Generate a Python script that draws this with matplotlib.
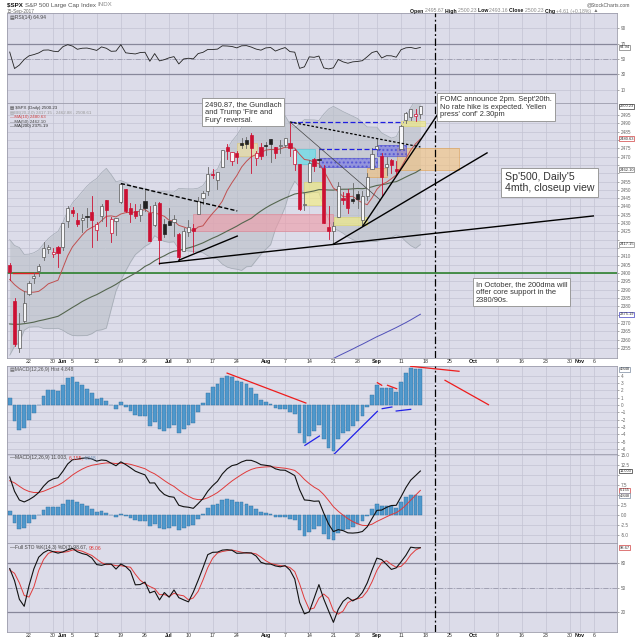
import matplotlib.pyplot as plt
from matplotlib.patches import Rectangle
from matplotlib.transforms import blended_transform_factory
import numpy as np
import pandas as pd

plt.rcParams['font.family'] = ['Liberation Sans', 'DejaVu Sans']

# $SPX daily, 16-May-2017 .. 15-Sep-2017
opens = [2404.55, 2382.95, 2354.69, 2371.37, 2387.21, 2397.04, 2401.41, 2409.54, 2414.50, 2411.67, 2415.63,
         2415.65, 2431.28, 2437.83, 2431.92, 2432.03, 2434.27, 2436.39, 2425.88, 2434.15, 2443.75, 2424.14,
         2431.24, 2442.55, 2450.66, 2439.31, 2437.40, 2434.65, 2443.32, 2436.34, 2428.70, 2442.38, 2429.20,
         2431.39, 2430.78, 2423.66, 2413.52, 2424.51, 2427.35, 2435.75, 2444.99, 2449.16, 2459.50, 2455.88,
         2463.85, 2475.56, 2467.40, 2472.04, 2477.88, 2479.97, 2482.76, 2469.12, 2475.94,
         2477.10, 2480.38, 2476.03, 2476.14, 2477.14, 2478.35, 2465.35, 2465.38, 2441.04, 2454.96, 2468.66,
         2468.63, 2462.95, 2427.64, 2425.50, 2433.75, 2444.88, 2447.91, 2444.72, 2447.35, 2431.94, 2446.06,
         2462.65, 2474.42, 2470.35, 2463.83, 2468.06, 2462.25, 2474.52, 2491.94, 2493.89, 2494.56, 2495.67]
highs = [2405.77, 2384.87, 2375.74, 2389.06, 2395.46, 2400.85, 2405.58, 2418.71, 2416.68, 2415.26, 2415.99,
         2430.06, 2440.23, 2439.55, 2436.21, 2435.28, 2439.27, 2446.20, 2430.38, 2441.49, 2443.75, 2433.95,
         2433.15, 2453.82, 2450.66, 2442.23, 2441.62, 2441.40, 2450.42, 2440.15, 2442.97, 2442.73, 2432.71,
         2439.17, 2434.90, 2424.28, 2426.92, 2432.00, 2429.30, 2445.76, 2449.32, 2463.54, 2462.82, 2460.92,
         2473.83, 2477.62, 2472.54, 2473.10, 2481.24, 2481.69, 2484.04, 2473.53, 2477.96,
         2478.51, 2480.38, 2476.03, 2480.00, 2480.95, 2490.87, 2474.41, 2465.38, 2448.09, 2468.22, 2468.90,
         2474.93, 2465.02, 2440.27, 2430.58, 2454.77, 2448.91, 2450.39, 2453.96, 2449.12, 2449.19, 2460.31,
         2475.01, 2480.38, 2471.97, 2469.64, 2468.62, 2467.11, 2488.95, 2496.77, 2498.37, 2498.43, 2500.23]
lows = [2396.05, 2356.21, 2352.72, 2370.43, 2386.92, 2393.88, 2397.99, 2408.01, 2412.20, 2409.42, 2403.59,
        2413.54, 2427.71, 2434.32, 2428.12, 2424.75, 2427.94, 2415.70, 2419.97, 2431.28, 2428.34, 2418.53,
        2422.88, 2441.79, 2436.60, 2430.74, 2433.27, 2431.11, 2437.03, 2419.38, 2428.02, 2405.70, 2421.65,
        2428.69, 2422.05, 2407.70, 2413.52, 2422.27, 2412.79, 2435.75, 2441.69, 2446.69, 2457.16, 2450.34,
        2463.85, 2468.43, 2465.06, 2466.32, 2474.91, 2474.94, 2459.93, 2464.66, 2468.53,
        2471.14, 2466.48, 2468.85, 2472.08, 2475.88, 2470.32, 2462.08, 2437.75, 2437.85, 2454.96, 2461.61,
        2463.86, 2430.01, 2420.69, 2417.35, 2433.67, 2441.42, 2436.19, 2442.22, 2439.03, 2428.20, 2443.77,
        2462.65, 2473.85, 2446.55, 2459.20, 2460.29, 2459.40, 2474.52, 2490.37, 2492.14, 2491.35, 2493.16]
closes = [2400.67, 2357.03, 2365.72, 2381.73, 2394.02, 2398.42, 2404.39, 2415.07, 2415.82, 2412.91, 2411.80,
          2430.06, 2439.07, 2436.10, 2429.33, 2433.14, 2433.79, 2431.77, 2429.39, 2440.35, 2437.92, 2432.46,
          2433.15, 2453.46, 2437.03, 2435.61, 2434.50, 2438.30, 2439.07, 2419.38, 2440.69, 2419.70, 2423.41,
          2429.01, 2432.54, 2409.75, 2425.18, 2427.43, 2425.53, 2443.25, 2447.83, 2459.27, 2459.14, 2460.61,
          2473.83, 2473.45, 2472.54, 2469.91, 2477.13, 2477.83, 2475.42, 2472.10, 2470.30,
          2476.35, 2477.57, 2472.16, 2476.83, 2480.91, 2474.92, 2474.02, 2438.21, 2441.32, 2465.84, 2464.61,
          2468.11, 2430.01, 2425.55, 2428.37, 2452.51, 2444.04, 2438.97, 2443.05, 2444.24, 2446.30, 2457.59,
          2471.65, 2476.55, 2457.85, 2465.54, 2465.10, 2461.43, 2488.11, 2496.48, 2498.37, 2495.62, 2500.23]

# closes before the window (1-Mar .. 15-May) so the averages/oscillators have history
pre_closes = [2395.96, 2381.92, 2383.12, 2375.31, 2368.39, 2362.98, 2364.87, 2372.60, 2373.47, 2365.45,
              2385.26, 2381.38, 2378.25, 2373.47, 2344.02, 2348.45, 2345.96, 2343.98, 2341.59, 2358.57,
              2361.13, 2368.06, 2362.72,
              2358.84, 2360.16, 2352.95, 2357.49, 2355.54, 2357.16, 2353.78, 2344.93, 2328.95, 2349.01,
              2342.19, 2338.17, 2355.84, 2348.69, 2374.15, 2388.61, 2387.45, 2388.77, 2384.20,
              2388.33, 2391.17, 2388.13, 2389.52, 2399.29, 2399.38, 2396.92, 2399.63, 2394.44, 2390.90, 2402.32]
# highs / lows of the last 17 of those days (21-Apr .. 15-May), for the stochastic
pre_highs = [2356.18, 2376.98, 2392.48, 2398.16, 2389.74, 2392.10, 2394.49, 2392.93, 2389.82, 2391.43,
             2399.29, 2401.36, 2403.87, 2399.73, 2395.72, 2392.44, 2404.05]
pre_lows = [2344.51, 2369.19, 2381.15, 2386.78, 2382.35, 2382.68, 2382.36, 2385.82, 2379.75, 2380.35,
            2389.38, 2393.92, 2392.44, 2392.79, 2381.74, 2387.19, 2393.94]

# MA(200), 21-Aug .. 15-Sep (earlier values sit below the chart)
ma200_tail = [2348.6, 2350.1, 2351.5, 2352.9, 2354.3, 2355.8, 2357.2, 2358.7, 2360.2, 2361.7,
              2363.0, 2364.4, 2365.8, 2367.2, 2368.7, 2370.2, 2371.8, 2373.5, 2375.2]

holidays = ['2017-05-29', '2017-07-04', '2017-09-04']
tick_days = ['2017-05-22', '2017-05-30', '2017-06-01', '2017-06-05', '2017-06-12', '2017-06-19', '2017-06-26',
             '2017-07-03', '2017-07-10', '2017-07-17', '2017-07-24', '2017-08-01', '2017-08-07', '2017-08-14',
             '2017-08-21', '2017-08-28', '2017-09-01', '2017-09-11', '2017-09-18', '2017-09-25', '2017-10-02',
             '2017-10-09', '2017-10-16', '2017-10-23', '2017-10-30', '2017-11-01', '2017-11-06']
tick_names = ['22', '30', 'Jun', '5', '12', '19', '26', 'Jul', '10', '17', '24', 'Aug', '7', '14',
              '21', '28', 'Sep', '11', '18', '25', 'Oct', '9', '16', '23', '30', 'Nov', '6']
months = ['Jun', 'Jul', 'Aug', 'Sep', 'Oct', 'Nov']

# last values shown in the boxes on the right edge
rsi_last = 64.94
price_tags = [(2500.23, '#333333'), (2480.63, '#d04040'), (2462.10, '#777777'),
              (2417.15, '#888888'), (2375.19, '#4040c0')]
macd_tags = [(11.003, '#333333'), (6.155, '#d04040'), (4.848, '#7a8aa0')]
hist_last = 4.848
sto_last = 98.67

# ---------------- indicators
days = pd.bdate_range('2017-05-16', '2017-11-10')
days = days[~days.isin(pd.to_datetime(holidays))]
def day(s):
    return int(days.get_loc(pd.Timestamp(s)))

n = len(closes)
x = np.arange(n)
npre = len(pre_closes)
c_all = pd.Series(pre_closes + closes)
ma10 = c_all.rolling(10).mean().values[npre:]
ma50 = c_all.rolling(50).mean().values[npre:]
mid20 = c_all.rolling(20).mean()
sd20 = c_all.rolling(20).std(ddof=0)
bb_up = (mid20 + 2 * sd20).values[npre:]
bb_lo = (mid20 - 2 * sd20).values[npre:]
mid20 = mid20.values[npre:]

ema12 = c_all.ewm(span=12, adjust=False).mean()
ema26 = c_all.ewm(span=26, adjust=False).mean()
macd = ema12 - ema26
signal = macd.ewm(span=9, adjust=False).mean()
hist = (macd - signal).values[npre:]
macd = macd.values[npre:]
signal = signal.values[npre:]

delta = c_all.diff()
gain = delta.clip(lower=0).ewm(alpha=1 / 14, adjust=False).mean()
loss = (-delta.clip(upper=0)).ewm(alpha=1 / 14, adjust=False).mean()
rsi = (100 - 100 / (1 + gain / loss)).values[npre:]

npk = len(pre_highs)
h_s = pd.Series(pre_highs + highs)
l_s = pd.Series(pre_lows + lows)
c_s = pd.Series(pre_closes[-npk:] + closes)
ll = l_s.rolling(14).min()
hh = h_s.rolling(14).max()
fast_k = 100 * (c_s - ll) / (hh - ll)
sto_k = fast_k.rolling(3).mean()
sto_d = sto_k.rolling(3).mean()
sto_k = sto_k.values[npk:]
sto_d = sto_d.values[npk:]

# ---------------- layout (pixel boxes on a 640x640 canvas)
W = H = 640
def rect(x0, y0, x1, y1):
    return [x0 / W, 1 - y1 / H, (x1 - x0) / W, (y1 - y0) / H]

fig = plt.figure(figsize=(6.4, 6.4), dpi=100)
bg = '#dcdce9'
gridc = '#c3c3d3'
ax_r = fig.add_axes(rect(7.3, 13, 617, 103))
ax = fig.add_axes(rect(7.3, 103, 617, 358))
ax_h = fig.add_axes(rect(7.3, 366, 617, 454))
ax_m = fig.add_axes(rect(7.3, 454, 617, 543))
ax_s = fig.add_axes(rect(7.3, 543, 617, 632))
panels = [ax_r, ax, ax_h, ax_m, ax_s]

tick_pos = [day(d) for d in tick_days]
fomc = day('2017-09-20')
for a in panels:
    a.set_facecolor(bg)
    a.set_xlim(-0.5, 125.7)
    for sp in a.spines.values():
        sp.set_color('#9c9cab')
        sp.set_linewidth(0.6)
    a.set_xticks(tick_pos)
    a.tick_params(axis='x', length=0, labelbottom=False)
    a.grid(True, color=gridc, lw=0.5)
    a.set_axisbelow(True)
    a.yaxis.tick_right()
    a.tick_params(axis='y', labelsize=3.3, colors='#666666', length=1.5, width=0.4, pad=1)
    a.axvline(fomc, color='black', lw=0.9, ls=(0, (6, 2, 1.5, 2)), zorder=15)

for a in (ax, ax_s):
    a.set_xticklabels(tick_names, fontsize=3.8, color='#333333')
    a.tick_params(axis='x', labelbottom=True, pad=1)
    for lbl in a.get_xticklabels():
        if lbl.get_text() in months:
            lbl.set_fontweight('bold')
            lbl.set_color('#111111')

def set_right_ticks(a, ticks, fmt, hidden, gap):
    # tick labels sitting under a value box are left blank
    a.set_yticks(ticks)
    a.set_yticklabels(['' if any(abs(t - v) < gap for v in hidden) else fmt.format(t) for t in ticks])

def tag(a, y, text, edge):
    a.text(1.004, y, text, transform=blended_transform_factory(a.transAxes, a.transData),
           fontsize=2.9, color='#333333', va='center', ha='left', clip_on=False, zorder=20,
           bbox=dict(boxstyle='square,pad=0.1', fc='white', ec=edge, lw=0.5))

# ---------------- RSI
ax_r.set_ylim(-6.8, 109.4)
ax_r.set_yticks([10, 30, 50, 70, 90])
ax_r.axhline(70, color='#87879a', lw=0.9)
ax_r.axhline(30, color='#87879a', lw=0.9)
ax_r.axhline(50, color='#9a9aac', lw=0.6, ls=(0, (6, 2, 1, 2)))
ax_r.plot(x, rsi, color='#222222', lw=0.6)
tag(ax_r, rsi_last, f'{rsi_last:.2f}', '#777777')

# ---------------- price panel
ax.set_ylim(2348.9, 2502.2)
set_right_ticks(ax, np.arange(2355, 2500, 5), '{:.0f}', [v for v, _ in price_tags], 3.0)
ax.fill_between(x, bb_lo, bb_up, color='#b9bfc7', alpha=0.6, lw=0, zorder=1)
ax.plot(x, bb_up, color='#a3aab4', lw=0.5, zorder=1)
ax.plot(x, bb_lo, color='#a3aab4', lw=0.5, zorder=1)
ax.plot(x, mid20, color='#c9ced4', lw=0.5, ls=':', zorder=1)
ax.axhline(2400, color='#1f7a1f', lw=1.1, zorder=2)
ax.plot([0.7, 5.9], [2400, 2400], color='#e02020', lw=1.0, zorder=2)

# coloured boxes drawn on the chart
zones = [  # (x0, x1, y0, y1, face, edge)
    (38.0, 66.9, 2425.2, 2435.5, '#f09aa6', '#e07a8a'),
    (47.1, 51.2, 2470.3, 2478.2, '#f1e39a', '#e0c870'),
    (58.9, 63.2, 2465.5, 2474.6, '#58e4f0', '#40c8d8'),
    (60.9, 64.9, 2440.9, 2454.7, '#f6f07a', '#e0d860'),
    (67.1, 74.0, 2428.9, 2433.7, '#f6f07a', '#e0d860'),
    (81.0, 86.0, 2488.4, 2491.4, '#f6f07a', '#e0d860'),
    (80.2, 93.0, 2461.9, 2475.2, '#f5c27a', '#e09a40'),
    (74.0, 78.1, 2457.7, 2463.1, '#f5c27a', '#e09a40'),
]
for x0, x1, y0, y1, fc, ec in zones:
    ax.add_patch(Rectangle((x0, y0), x1 - x0, y1 - y0, fc=fc, ec=ec, lw=0.6, alpha=0.6, zorder=2))
for x0, x1, y0, y1 in [(64.0, 76.0, 2463.7, 2469.1), (76.0, 82.0, 2470.3, 2477.0)]:
    ax.add_patch(Rectangle((x0, y0), x1 - x0, y1 - y0, fc='#6a6ae6', ec='#3030d0', lw=0.6,
                           alpha=0.55, hatch='....', zorder=2))

ax.plot(x, ma50, color='#55664f', lw=0.8, zorder=2)
ax.plot(x, ma10, color='#c05050', lw=0.7, zorder=2)
ax.plot(x[n - len(ma200_tail):], ma200_tail, color='#5050b8', lw=0.7, zorder=2)

# candles: hollow when close > open, red when close < previous close
prev = [pre_closes[-1]] + closes[:-1]
for i in range(n):
    down = closes[i] < prev[i]
    col = '#cc1133' if down else '#222222'
    wick = '#cc1133' if down else '#666666'
    lo_b, hi_b = min(opens[i], closes[i]), max(opens[i], closes[i])
    hi_b = max(hi_b, lo_b + 0.35)
    ax.plot([i, i], [lows[i], highs[i]], color=wick, lw=0.6, zorder=3)
    if closes[i] > opens[i]:
        ax.add_patch(Rectangle((i - 0.33, lo_b), 0.66, hi_b - lo_b, fc='#f6f6f8',
                               ec=col if down else '#555555', lw=0.5, zorder=4))
    else:
        ax.add_patch(Rectangle((i - 0.33, lo_b), 0.66, hi_b - lo_b, fc=col, ec=col, lw=0.5, zorder=4))

# hand-drawn trend lines
trend = [  # (x0, y0, x1, y1, colour, style, width)
    (23.0, 2453.8, 47.1, 2437.3, 'black', (0, (3, 1.5)), 1.0),
    (31.0, 2405.7, 120.8, 2434.3, 'black', '-', 1.0),
    (35.0, 2407.7, 47.1, 2422.2, 'black', '-', 1.0),
    (58.0, 2490.8, 81.4, 2490.8, '#2020e0', (0, (4, 2)), 0.9),
    (64.0, 2474.6, 76.7, 2474.6, '#2020e0', (0, (4, 2)), 0.9),
    (58.0, 2490.8, 85.0, 2475.8, 'black', (0, (2, 1.5)), 0.9),
    (58.0, 2490.8, 76.7, 2443.9, '#444444', '-', 0.5),
    (73.1, 2428.3, 88.5, 2495.0, 'black', '-', 1.0),
    (67.0, 2417.35, 98.8, 2472.2, 'black', '-', 1.0),
]
for x0, y0, x1, y1, c, ls, lw in trend:
    ax.plot([x0, x1], [y0, y1], color=c, ls=ls, lw=lw, zorder=5)

for v, c in price_tags:
    tag(ax, v, f'{v:.2f}', c)

# ---------------- MACD histogram
ax_h.set_ylim(-6.68, 5.32)
ax_h.set_yticks(np.arange(-6, 5, 1))
ax_h.bar(x, hist, width=0.78, color='#4f98cc', edgecolor='#2f70a0', lw=0.3, zorder=2)
marks = [  # (x0, y0, x1, y1, colour)
    (45.0, 4.35, 61.3, 0.27, '#ee1c1c'),
    (83.0, 5.28, 93.0, 4.60, '#ee1c1c'),
    (90.1, 3.37, 99.1, 0.04, '#ee1c1c'),
    (76.1, 3.04, 77.0, 2.69, '#ee1c1c'),
    (78.2, 2.69, 80.1, 2.22, '#ee1c1c'),
    (61.1, -5.50, 64.1, -4.23, '#2020e8'),
    (67.1, -6.73, 76.1, -0.86, '#2020e8'),
    (77.1, -0.50, 79.1, -0.27, '#2020e8'),
    (80.0, -0.82, 83.0, -0.59, '#2020e8'),
]
for x0, y0, x1, y1, c in marks:
    ax_h.plot([x0, x1], [y0, y1], color=c, lw=0.9, zorder=5)
tag(ax_h, hist_last, f'{hist_last:.3f}', '#7a8aa0')

# ---------------- MACD
ax_m.set_ylim(-7.0, 15.25)
set_right_ticks(ax_m, np.arange(-5, 15.1, 2.5), '{:.1f}', [v for v, _ in macd_tags], 1.3)
ax_m.bar(x, hist, width=0.78, color='#4f98cc', edgecolor='#2f70a0', lw=0.3, zorder=2)
ax_m.plot(x, signal, color='#e03a3a', lw=0.7, zorder=3)
ax_m.plot(x, macd, color='#111111', lw=0.8, zorder=4)
for v, c in macd_tags:
    tag(ax_m, v, f'{v:.3f}', c)

# ---------------- Full stochastics
ax_s.set_ylim(-4.5, 104.5)
ax_s.set_yticks([20, 50, 80])
ax_s.axhline(80, color='#87879a', lw=0.9)
ax_s.axhline(20, color='#87879a', lw=0.9)
ax_s.axhline(50, color='#9a9aac', lw=0.6, ls=(0, (6, 2, 1, 2)))
ax_s.plot(x, sto_d, color='#e03a3a', lw=0.7, zorder=3)
ax_s.plot(x, sto_k, color='#111111', lw=0.8, zorder=4)
tag(ax_s, sto_last, f'{sto_last:.2f}', '#d04040')

# ---------------- texts
renderer = fig.canvas.get_renderer()
def run_text(x_px, y_px, parts, size):
    xf = x_px / W
    for s, col, wt in parts:
        t = fig.text(xf, 1 - y_px / H, s, fontsize=size, color=col, fontweight=wt,
                     va='center', ha='left', zorder=30)
        xf = t.get_window_extent(renderer=renderer).x1 / W

run_text(7, 5, [('\\$SPX ', '#111111', 'bold'), ('S&P 500 Large Cap Index ', '#555555', 'normal'),
                ('INDX', '#888888', 'normal')], 4.4)
run_text(7, 11, [('15-Sep-2017', '#666666', 'normal')], 3.4)
fig.text(630 / W, 1 - 5 / H, '@StockCharts.com', fontsize=3.6, color='#555555', ha='right', va='center')
run_text(410, 11, [('Open ', '#111111', 'bold'), ('2495.67 ', '#888888', 'normal'),
                   ('High ', '#111111', 'bold'), ('2500.23 ', '#888888', 'normal'),
                   ('Low ', '#111111', 'bold'), ('2493.16 ', '#888888', 'normal'),
                   ('Close ', '#111111', 'bold'), ('2500.23 ', '#888888', 'normal'),
                   ('Chg ', '#111111', 'bold'), ('+4.61 (+0.18%)', '#888888', 'normal'),
                   (' \u25b2', '#777777', 'normal')], 3.7)

run_text(10, 18, [('\u25a4RSI(14) 64.94', '#444444', 'normal')], 3.6)
legend = [('\u25a4 \\$SPX (Daily) 2500.23', '#333333'),
          ('\u25a4BB(20,2.0) 2417.15 - 2462.88 - 2508.61', '#999999'),
          ('\u2014MA(10) 2480.63', '#d04040'),
          ('\u2014MA(50) 2462.10', '#444444'),
          ('\u2014MA(200) 2375.19', '#222222')]
for k, (s, col) in enumerate(legend):
    fig.text(10 / W, 1 - (108 + 4.6 * k) / H, s, fontsize=3.2, color=col, va='center', ha='left')
run_text(10, 369, [('\u25a4MACD(12,26,9) Hist 4.848', '#555555', 'normal')], 3.6)
run_text(10, 458, [('\u2014MACD(12,26,9) 11.003, ', '#444444', 'normal'), ('6.155, ', '#e03a3a', 'normal'),
                   ('4.848', '#6a8ab0', 'normal')], 3.6)
run_text(10, 548, [('\u2014Full STO %K(14,3) %D(3) 98.67, ', '#444444', 'normal'),
                   ('98.06', '#e03a3a', 'normal')], 3.6)

note_box = dict(boxstyle='square,pad=0.35', fc='white', ec='#9a9a9a', lw=0.7)
notes = [
    (205, 101, "2490.87, the Gundlach\nand Trump 'Fire and\nFury' reversal.", 5.4),
    (440, 96, "FOMC announce 2pm. Sept'20th.\nNo rate hike is expected. Yellen\npress' conf' 2.30pm", 5.4),
    (505, 172, "Sp'500, Daily'5\n4mth, closeup view", 7.6),
    (476, 281, "In October, the 200dma will\noffer core support in the\n2380/90s.", 5.4),
]
for px, py, s, fs in notes:
    fig.text(px / W, 1 - py / H, s, fontsize=fs, color='#333333', va='top', ha='left',
             linespacing=1.15, bbox=note_box, zorder=40)

fig.savefig('out.png', dpi=100, facecolor='white')
